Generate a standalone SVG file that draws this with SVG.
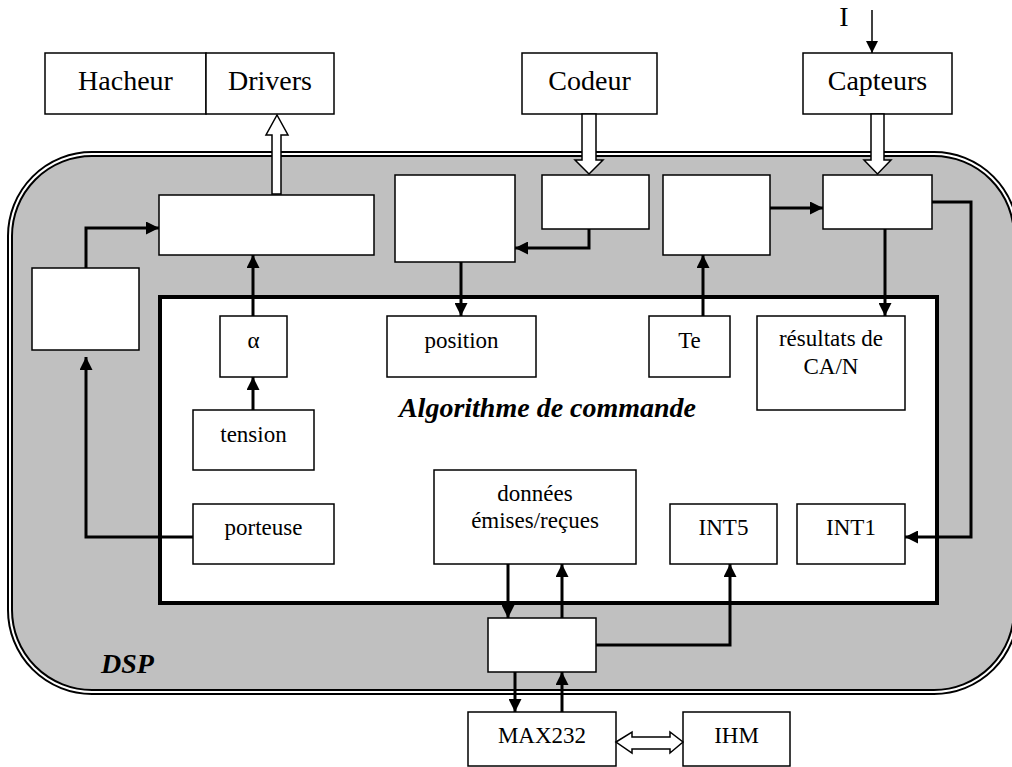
<svg xmlns="http://www.w3.org/2000/svg" width="1012" height="767" viewBox="0 0 1012 767">
<style>
.box{fill:#fff;stroke:#000;stroke-width:1.5}
.t{font-family:"Liberation Serif","Times New Roman",serif;font-size:23px;text-anchor:middle;fill:#000}
.tl{font-family:"Liberation Serif","Times New Roman",serif;font-size:28px;text-anchor:middle;fill:#000}
.bi{font-family:"Liberation Serif","Times New Roman",serif;font-size:28px;font-weight:bold;font-style:italic;fill:#000}
.c{fill:none;stroke:#000;stroke-width:3}
.hollow{fill:#fff;stroke:#000;stroke-width:1.5;stroke-linejoin:miter}
</style>
<defs>
<marker id="ah" viewBox="0 0 13 13" refX="13" refY="6.5" markerWidth="13" markerHeight="13" markerUnits="userSpaceOnUse" orient="auto">
<path d="M0,0 L13,6.5 L0,13 z" fill="#000"/>
</marker>
<marker id="ahs" viewBox="0 0 12 12" refX="12" refY="6" markerWidth="12" markerHeight="12" markerUnits="userSpaceOnUse" orient="auto">
<path d="M0,0 L12,6 L0,12 z" fill="#000"/>
</marker>
</defs>
<rect width="1012" height="767" fill="#fff"/>

<g id="dsp">
<rect x="10" y="154" width="1006" height="538" rx="82" ry="82" fill="#c0c0c0" stroke="#000" stroke-width="6"/>
<rect x="10" y="154" width="1006" height="538" rx="82" ry="82" fill="none" stroke="#fff" stroke-width="2"/>
<text class="bi" x="101" y="673">DSP</text>
</g>

<g id="algo">
<rect x="160" y="297" width="777" height="306" fill="#fff" stroke="#000" stroke-width="4"/>
<text class="bi" x="547.5" y="417" text-anchor="middle">Algorithme de commande</text>
</g>

<g id="hacheur"><rect class="box" x="45" y="53" width="161" height="61"/><text class="tl" x="125.5" y="90">Hacheur</text></g>
<g id="drivers"><rect class="box" x="206" y="53" width="128" height="61"/><text class="tl" x="270" y="90">Drivers</text></g>
<g id="codeur"><rect class="box" x="522" y="53" width="135" height="61"/><text class="tl" x="589.5" y="90">Codeur</text></g>
<g id="capteurs"><rect class="box" x="803" y="53" width="149" height="61"/><text class="tl" x="877.5" y="90">Capteurs</text></g>
<g id="courant"><text class="tl" x="844" y="26">I</text></g>

<g id="pwm"><rect class="box" x="159" y="195" width="215" height="60"/></g>
<g id="timer-carrier"><rect class="box" x="32" y="268" width="107" height="82"/></g>
<g id="qep"><rect class="box" x="395" y="175" width="120" height="87"/></g>
<g id="qep-in"><rect class="box" x="542" y="175" width="107" height="54"/></g>
<g id="timer-te"><rect class="box" x="663" y="175" width="107" height="80"/></g>
<g id="adc"><rect class="box" x="823" y="175" width="109" height="54"/></g>

<g id="alpha"><rect class="box" x="220" y="316" width="67" height="61"/><text class="t" x="253.5" y="348">α</text></g>
<g id="position"><rect class="box" x="387" y="316" width="149" height="61"/><text class="t" x="461.5" y="348">position</text></g>
<g id="te"><rect class="box" x="649" y="316" width="81" height="61"/><text class="t" x="689.5" y="348">Te</text></g>
<g id="resultats"><rect class="box" x="757" y="316" width="148" height="94"/><text class="t" x="831" y="346">résultats de</text><text class="t" x="831" y="374">CA/N</text></g>
<g id="tension"><rect class="box" x="193" y="410" width="121" height="60"/><text class="t" x="253.5" y="442">tension</text></g>
<g id="porteuse"><rect class="box" x="193" y="504" width="141" height="60"/><text class="t" x="263.5" y="535">porteuse</text></g>
<g id="donnees"><rect class="box" x="434" y="470" width="202" height="94"/><text class="t" x="535" y="501">données</text><text class="t" x="535" y="528">émises/reçues</text></g>
<g id="int5"><rect class="box" x="670" y="504" width="107" height="60"/><text class="t" x="723.5" y="535">INT5</text></g>
<g id="int1"><rect class="box" x="797" y="504" width="108" height="60"/><text class="t" x="851" y="535">INT1</text></g>
<g id="sci"><rect class="box" x="488" y="618" width="108" height="54"/></g>
<g id="max232"><rect class="box" x="468" y="712" width="148" height="54"/><text class="t" x="542" y="743">MAX232</text></g>
<g id="ihm"><rect class="box" x="683" y="712" width="107" height="54"/><text class="t" x="736.5" y="743">IHM</text></g>

<g id="connectors">
<polygon class="hollow" points="272,194 272,135 266,135 277,115 288,135 281,135 281,194"/>
<polygon class="hollow" points="582,114 582,160 575,160 589,174 603,160 596,160 596,114"/>
<polygon class="hollow" points="871,114 871,160 864,160 877.5,174 891,160 884,160 884,114"/>
<polygon class="hollow" points="616,742 632,732 632,737 670,737 670,732 683,742 670,753 670,749 632,749 632,753"/>
<path d="M872,10 V53" fill="none" stroke="#000" stroke-width="1.5" marker-end="url(#ahs)"/>
<path class="c" d="M86,268 V228 H159" marker-end="url(#ah)"/>
<path class="c" d="M253,316 V255" marker-end="url(#ah)"/>
<path class="c" d="M253,410 V377" marker-end="url(#ah)"/>
<path class="c" d="M193,537 H86 V357" marker-end="url(#ah)"/>
<path class="c" d="M461,262 V316" marker-end="url(#ah)"/>
<path class="c" d="M589,229 V248 H515" marker-end="url(#ah)"/>
<path class="c" d="M703,316 V255" marker-end="url(#ah)"/>
<path class="c" d="M770,208 H823" marker-end="url(#ah)"/>
<path class="c" d="M932,202 H971 V537 H905" marker-end="url(#ah)"/>
<path class="c" d="M885,229 V316" marker-end="url(#ah)"/>
<path class="c" d="M508,564 V618" marker-end="url(#ah)"/>
<path class="c" d="M562,618 V564" marker-end="url(#ah)"/>
<path class="c" d="M596,645 H730 V564" marker-end="url(#ah)"/>
<path class="c" d="M515,672 V712" marker-end="url(#ah)"/>
<path class="c" d="M562,712 V672" marker-end="url(#ah)"/>
</g>
</svg>
